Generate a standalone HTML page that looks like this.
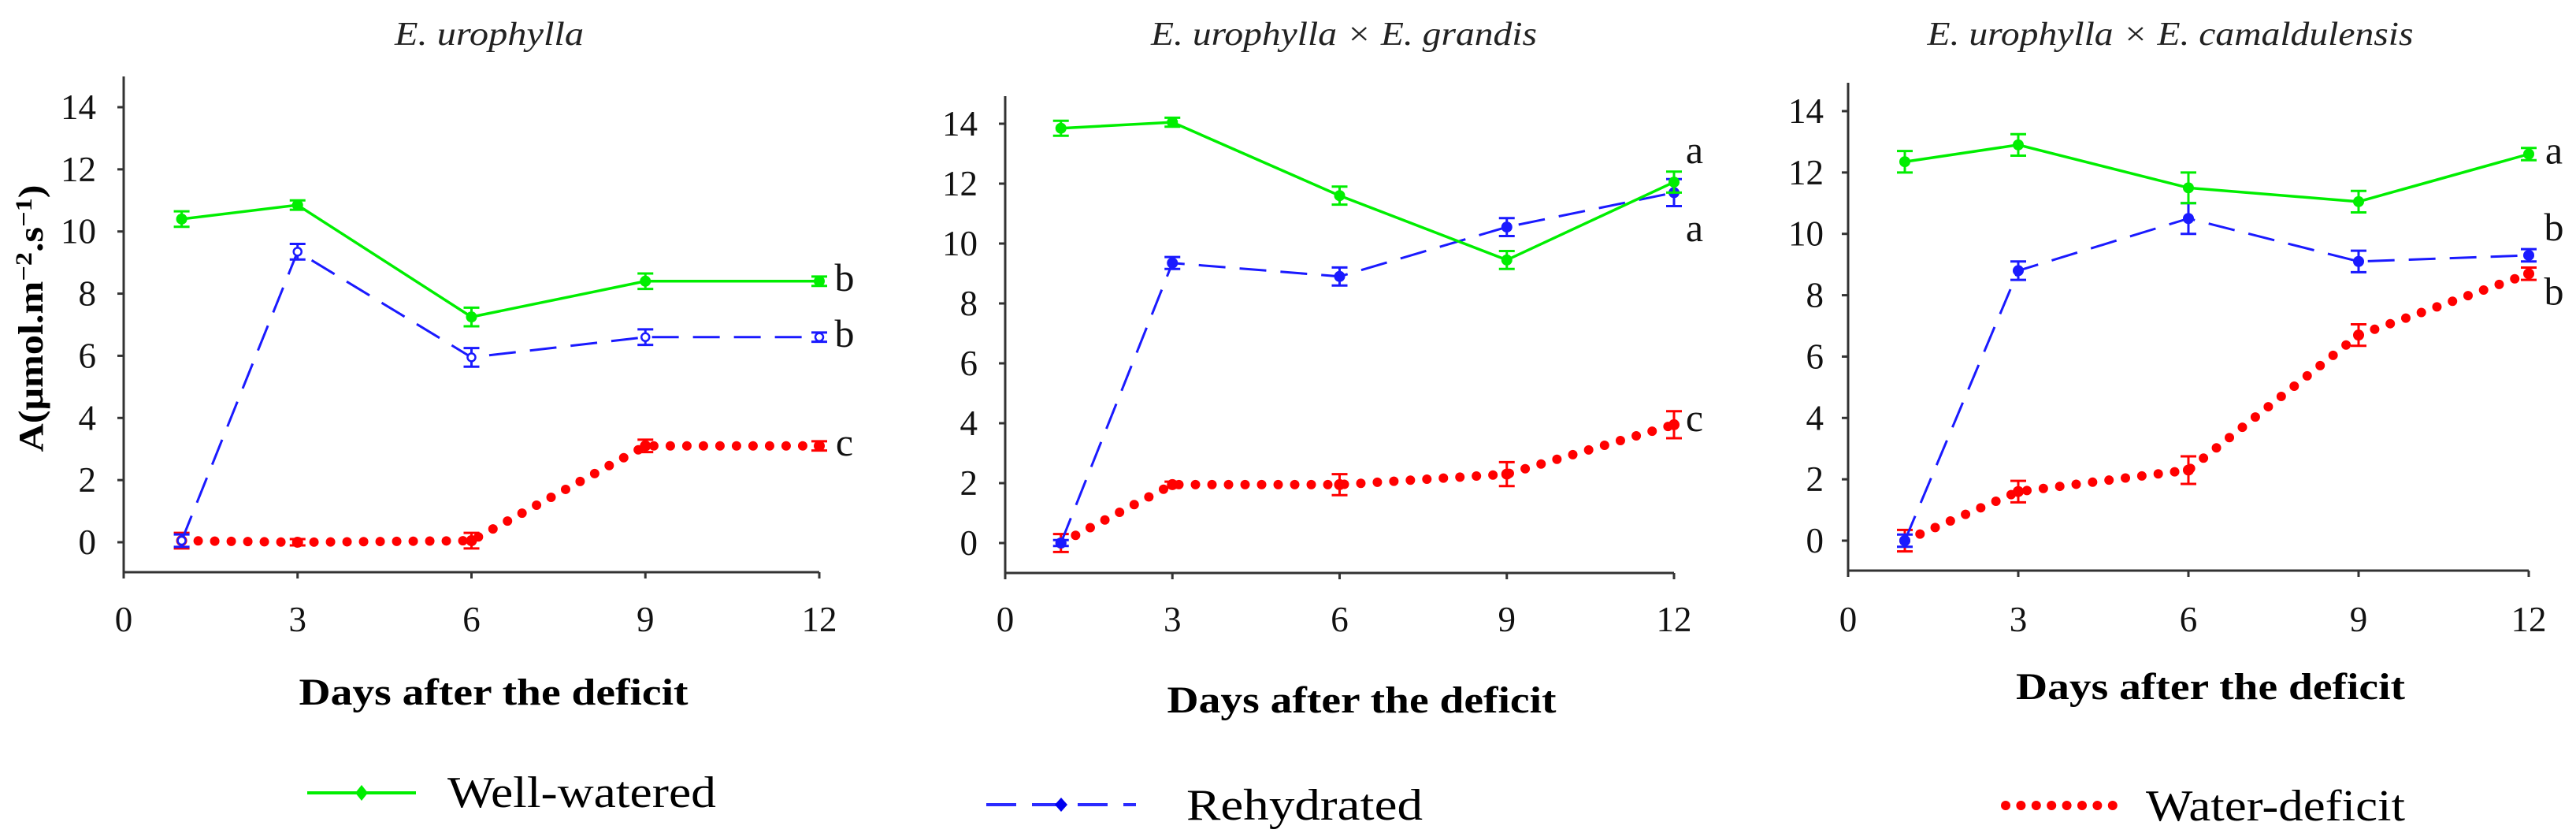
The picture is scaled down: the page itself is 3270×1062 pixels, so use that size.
<!DOCTYPE html>
<html><head><meta charset="utf-8"><style>
html,body{margin:0;padding:0;background:#fff;}
svg{display:block;}
text{font-family:"Liberation Serif",serif;}
</style></head><body>
<svg id="chart" width="3270" height="1062" viewBox="0 0 3270 1062" xmlns="http://www.w3.org/2000/svg">
<text transform="translate(54,404) rotate(-90)" text-anchor="middle" font-size="44" font-weight="bold" textLength="339" lengthAdjust="spacingAndGlyphs">A(μmol.m<tspan dy="-14" font-size="30">−2</tspan><tspan dy="14">.s</tspan><tspan dy="-14" font-size="30">−1</tspan><tspan dy="14">)</tspan></text>
<g>
  <g>
    <line x1="390" y1="1006" x2="528" y2="1006" stroke="#00ee00" stroke-width="4"/>
    <path d="M459 996 L467 1006 L459 1016 L451 1006 Z" fill="#00ee00"/>
    <text x="568" y="1024" font-size="56" textLength="341" lengthAdjust="spacingAndGlyphs">Well-watered</text>
  </g>
  <g>
    <line x1="1252" y1="1021" x2="1442" y2="1021" stroke="#2b2bff" stroke-width="4" stroke-dasharray="38 20"/>
    <path d="M1347 1012 L1355 1021 L1347 1030 L1339 1021 Z" fill="#0000ee"/>
    <text x="1506" y="1040" font-size="56" textLength="300" lengthAdjust="spacingAndGlyphs">Rehydrated</text>
  </g>
  <g>
    <line x1="2546" y1="1022" x2="2682" y2="1022" stroke="#ff0000" stroke-width="12" stroke-linecap="round" stroke-dasharray="0 19.4"/>
    <text x="2724" y="1041" font-size="56" textLength="329" lengthAdjust="spacingAndGlyphs">Water-deficit</text>
  </g>
</g>
</svg>
<script>
const days = [1, 3, 6, 9, 12];
const xTicks = [0, 3, 6, 9, 12];
const yTicks = [0, 2, 4, 6, 8, 10, 12, 14];
const panelTitles = ["E. urophylla", "E. urophylla × E. grandis", "E. urophylla × E. camaldulensis"];
// Panel 1
const p1Well = [10.4, 10.85, 7.25, 8.4, 8.4];
const p1WellErr = [0.25, 0.15, 0.3, 0.25, 0.15];
const p1Rehy = [0.05, 9.35, 5.95, 6.6, 6.6];
const p1RehyErr = [0.2, 0.25, 0.3, 0.25, 0.15];
const p1Def = [0.05, 0.0, 0.05, 3.1, 3.1];
const p1DefErr = [0.25, 0.1, 0.25, 0.2, 0.15];
const p1Letters = ["b", "b", "c"];
const p1LetterY = [8.4, 6.6, 3.1];
// Panel 2
const p2Well = [13.85, 14.05, 11.6, 9.45, 12.05];
const p2WellErr = [0.25, 0.15, 0.3, 0.3, 0.35];
const p2Rehy = [0.0, 9.35, 8.9, 10.55, 11.7];
const p2RehyErr = [0.1, 0.2, 0.3, 0.3, 0.45];
const p2Def = [0.0, 1.95, 1.95, 2.3, 3.95];
const p2DefErr = [0.3, 0.1, 0.35, 0.4, 0.45];
const p2Letters = ["a", "a", "c"];
const p2LetterY = [13.0, 10.4, 4.05];
// Panel 3
const p3Well = [12.35, 12.9, 11.5, 11.05, 12.6];
const p3WellErr = [0.35, 0.35, 0.5, 0.35, 0.2];
const p3Rehy = [0.0, 8.8, 10.5, 9.1, 9.3];
const p3RehyErr = [0.2, 0.3, 0.5, 0.35, 0.2];
const p3Def = [0.0, 1.6, 2.3, 6.7, 8.7];
const p3DefErr = [0.35, 0.35, 0.45, 0.35, 0.2];
const p3Letters = ["a", "b", "b"];
const p3LetterY = [12.6, 10.1, 8.0];

const NS = "http://www.w3.org/2000/svg";
const svg = document.getElementById("chart");
function mk(tag, attrs, parent) {
  const e = document.createElementNS(NS, tag);
  for (const k in attrs) e.setAttribute(k, attrs[k]);
  (parent || svg).appendChild(e);
  return e;
}
const layouts = [
  {x0: 157, x12: 1040, y0: 688, y14: 136, yAxisBottom: 726, yTop: 97, titleX: 621, titleW: 240, dX: 878, tickRight: 122, letterX: 1072},
  {x0: 1276, x12: 2125, y0: 689, y14: 157, yAxisBottom: 727, yTop: 122, titleX: 1706, titleW: 490, dX: 888, tickRight: 1241, letterX: 2151},
  {x0: 2346, x12: 3210, y0: 686, y14: 141, yAxisBottom: 724, yTop: 105, titleX: 2755, titleW: 617, dX: 871, tickRight: 2315, letterX: 3242}
];
const panelData = [
  [p1Well, p1WellErr, p1Rehy, p1RehyErr, p1Def, p1DefErr, p1Letters, p1LetterY],
  [p2Well, p2WellErr, p2Rehy, p2RehyErr, p2Def, p2DefErr, p2Letters, p2LetterY],
  [p3Well, p3WellErr, p3Rehy, p3RehyErr, p3Def, p3DefErr, p3Letters, p3LetterY]
];
const panelNames = ["urophylla", "urophylla-x-grandis", "urophylla-x-camaldulensis"];

layouts.forEach((L, pi) => {
  const d = panelData[pi];
  const g = mk("g", {});
  
  
  const xs = v => L.x0 + (L.x12 - L.x0) * v / 12;
  const ys = v => L.y0 - (L.y0 - L.y14) * v / 14;
  const t = mk("text", {x: L.titleX, y: 57, "text-anchor": "middle", "font-size": "42", "font-style": "italic", textLength: L.titleW, lengthAdjust: "spacingAndGlyphs", fill: "#222"}, g);
  t.textContent = panelTitles[pi];
  
  
  const ax = mk("path", {d: `M${L.x0} ${L.yTop} V${L.yAxisBottom} H${L.x12}`, stroke: "#333", "stroke-width": "3", fill: "none"}, g);
  
  
  yTicks.forEach(v => {
    mk("line", {x1: L.x0 - 8, x2: L.x0, y1: ys(v), y2: ys(v), stroke: "#333", "stroke-width": "3"}, g);
    const tl = mk("text", {x: L.tickRight, y: ys(v) + 15, "text-anchor": "end", "font-size": "45", fill: "#111"}, g);
    tl.textContent = v;
    
    
  });
  xTicks.forEach(v => {
    mk("line", {x1: xs(v), x2: xs(v), y1: L.yAxisBottom, y2: L.yAxisBottom + 8, stroke: "#333", "stroke-width": "3"}, g);
    const tl = mk("text", {x: xs(v), y: 801, "text-anchor": "middle", "font-size": "45", fill: "#111"}, g);
    tl.textContent = v;
    
    
  });
  const xt = mk("text", {x: L.x0 + (L.x12 - L.x0) / 2 + 28, y: L.dX + 16, "text-anchor": "middle", "font-size": "48", "font-weight": "bold", textLength: 494, lengthAdjust: "spacingAndGlyphs"}, g);
  xt.textContent = "Days after the deficit";
  
  

  const series = [
    {vals: d[4], err: d[5], color: "#ff0000", name: "water-deficit", style: {"stroke-width": 12, "stroke-linecap": "round", "stroke-dasharray": "0 21"}},
    {vals: d[2], err: d[3], color: "#1a1aff", name: "rehydrated", style: {"stroke-width": 3, "stroke-dasharray": "34 18"}},
    {vals: d[0], err: d[1], color: "#00ee00", name: "well-watered", style: {"stroke-width": 3.5}}
  ];
  series.forEach(s => {
    const sg = mk("g", {}, g);
    
    
    const pts = days.map((dd, i) => xs(dd) + "," + ys(s.vals[i])).join(" ");
    const attrs = {points: pts, fill: "none", stroke: s.color};
    for (const k in s.style) attrs[k] = s.style[k];
    const pl = mk("polyline", attrs, sg);
    
    
    days.forEach((dd, i) => {
      const cx = xs(dd), cy = ys(s.vals[i]);
      const e = s.err[i];
      const eb = mk("path", {d: `M${cx} ${ys(s.vals[i] + e)} V${ys(s.vals[i] - e)} M${cx - 10} ${ys(s.vals[i] + e)} H${cx + 10} M${cx - 10} ${ys(s.vals[i] - e)} H${cx + 10}`, stroke: s.color, "stroke-width": "3", fill: "none"}, sg);
      
      
      const hollow = (pi === 0 && s.name === "rehydrated");
      const m = mk("circle", {cx: cx, cy: cy, r: hollow ? 5 : 7, fill: hollow ? "#fff" : s.color, stroke: s.color, "stroke-width": hollow ? 2.5 : 0}, sg);
      
      
    });
  });
  d[6].forEach((lt, i) => {
    const tx = mk("text", {x: L.letterX, y: ys(d[7][i]) + 12, "text-anchor": "middle", "font-size": "50", fill: "#111"}, g);
    tx.textContent = lt;
    
    
  });
});
</script>
</body></html>
